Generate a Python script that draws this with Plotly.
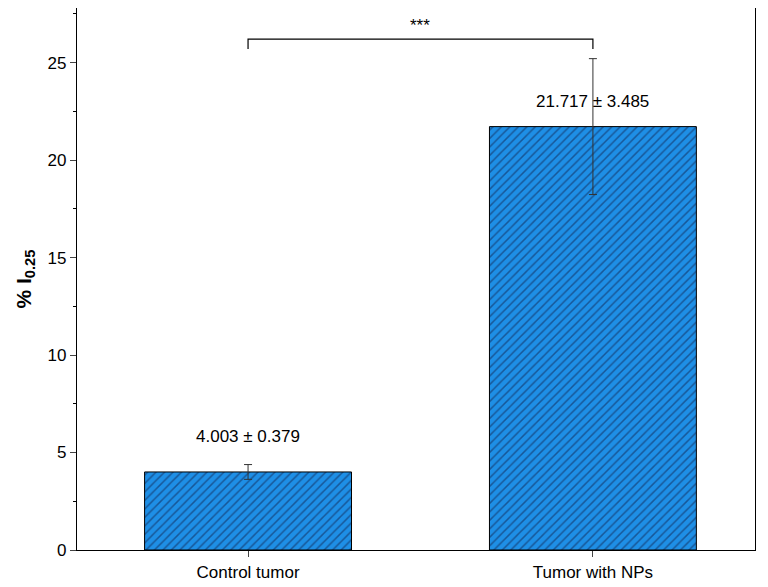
import plotly.graph_objects as go

categories = ["Control tumor", "Tumor with NPs"]
means = [4.003, 21.717]
sds = [0.379, 3.485]
labels = ["4.003 ± 0.379", "21.717 ± 3.485"]
label_y = [5.8, 23.0]

fig = go.Figure()
fig.add_trace(go.Bar(
    x=[0, 1], y=means, width=0.6,
    marker=dict(color="#1E8FE6", line=dict(color="black", width=1),
                pattern=dict(shape="/", fgcolor="#10204a", bgcolor="#1E8FE6", size=6, solidity=0.25)),
    error_y=dict(type="data", array=sds, color="#333", thickness=1, width=4),
))
for i, (t, yy) in enumerate(zip(labels, label_y)):
    fig.add_annotation(x=i, y=yy, text=t, showarrow=False, font=dict(size=17, color="black"))

# significance bracket
fig.add_shape(type="path", path="M 0,25.7 L 0,26.2 L 1,26.2 L 1,25.7",
              line=dict(color="black", width=1.2), xref="x", yref="y")
fig.add_annotation(x=0.5, y=26.9, text="***", showarrow=False, font=dict(size=17, color="black"))

fig.update_layout(
    width=768, height=587, plot_bgcolor="white", paper_bgcolor="white",
    margin=dict(l=69, r=21, t=0, b=45), showlegend=False,
    font=dict(family="Liberation Sans", color="black"),
    xaxis=dict(range=[-0.496, 1.47], tickvals=[0, 1], ticktext=categories,
               showline=True, mirror=True, linecolor="black", linewidth=1.2,
               ticks="outside", ticklen=6, tickfont=dict(size=17), showgrid=False, zeroline=False),
    yaxis=dict(range=[0, 27.8], dtick=5, showline=True, mirror=True, linecolor="black", linewidth=1.2,
               ticks="outside", ticklen=6, tickfont=dict(size=17), showgrid=False, zeroline=False,
               minor=dict(dtick=2.5, ticks="outside", ticklen=3, tickcolor="black"),
               title=dict(text="<b>% I<sub>0.25</sub></b>", font=dict(size=21), standoff=10)),
)
fig.write_html("out.html")
